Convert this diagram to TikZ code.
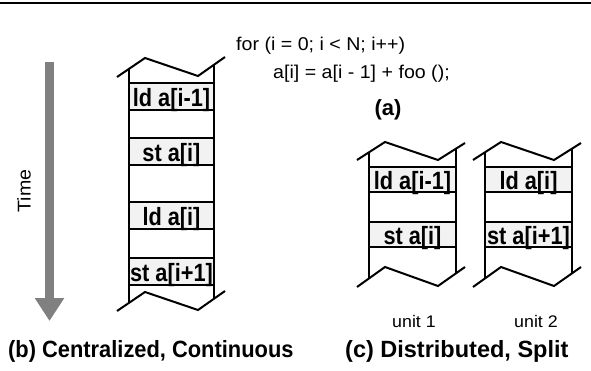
\documentclass[tikz,border=0pt]{standalone}
\usepackage{fontspec}
\usetikzlibrary{arrows.meta}
\setmainfont{Liberation Sans}
\newfontfamily\regf[FakeStretch=1.06]{Liberation Sans}
\newfontfamily\boldf[FakeStretch=0.93]{Liberation Sans Bold}
\newfontfamily\boldw[FakeStretch=1.0]{Liberation Sans Bold}
\newfontfamily\boldn[FakeStretch=0.87]{Liberation Sans Bold}
\definecolor{arrowgray}{RGB}{128,128,128}
\definecolor{boxfill}{RGB}{242,242,242}
\begin{document}
\begin{tikzpicture}[x=1pt,y=-1pt,
  zz/.style={line width=2pt, line join=miter},
  side/.style={line width=2.6pt},
  opbox/.style={draw, line width=2pt, fill=boxfill, inner sep=0pt,
    text height=19.6pt, text depth=0pt,
    font=\boldn\fontsize{25}{28}\selectfont},
  opboxb/.style={opbox, minimum width=85pt, minimum height=27pt},
  opboxc/.style={opbox, minimum width=87pt, minimum height=25pt},
  codetxt/.style={inner sep=0pt, anchor=base west, font=\regf\fontsize{18.5}{21}\selectfont},
  captxtb/.style={inner sep=0pt, anchor=base west, font=\boldf\fontsize{23.5}{27}\selectfont},
  captxtc/.style={inner sep=0pt, anchor=base west, font=\boldw\fontsize{23.5}{27}\selectfont},
  unit/.style={inner sep=0pt, anchor=base, font=\regf\fontsize{16.8}{19}\selectfont},
  timearrow/.style={draw=arrowgray, line width=9pt, -{Triangle[width=28pt,length=23pt]}, arrowgray}
]
\useasboundingbox (0,0) rectangle (591,371);
% top rule
\coordinate (rl) at (0,3);
\coordinate (rr) at (591,3);
\draw[line width=2.5pt] (rl) -- (rr);

% code
\node[codetxt] (code1) at (236,51) {for (i = 0; i < N; i++)};
\node[codetxt] (code2) at (273,79) {a[i] = a[i - 1] + foo ();};
\node[inner sep=0pt, anchor=base, font=\boldw\fontsize{22}{25}\selectfont] (capa) at (388,116) {(a)};

% time arrow
\coordinate (ts) at (49.5,62);
\coordinate (te) at (49.5,321);
\draw[timearrow] (ts) -- (te);
\node[rotate=90, inner sep=0pt, font=\regf\fontsize{18.5}{21}\selectfont] (time) at (24,191) {Time};

% ---- column (b)
\coordinate (bTL) at (129,68.9);
\coordinate (bBL) at (129,302.9);
\coordinate (bTR) at (214,64.7);
\coordinate (bBR) at (214,298.7);
\draw[zz] (117,77) -- (145,58) -- (198,76) -- (225,57);
\draw[zz] (117,311) -- (145,292) -- (198,310) -- (225,291);
\draw[side] (bTL) -- (bBL);
\draw[side] (bTR) -- (bBR);
\node[opboxb] (b1) at (171.5,96.5) {ld a[i-1]};
\node[opboxb] (b2) at (171.5,152) {st a[i]};
\node[opboxb] (b3) at (171.5,216) {ld a[i]};
\node[opboxb] (b4) at (171.5,271.5) {st a[i+1]};
\node[captxtb] (capb) at (8,357) {(b) Centralized, Continuous};

% ---- column (c) unit 1
\coordinate (uTL) at (369,152.3);
\coordinate (uBL) at (369,278.4);
\coordinate (uTR) at (456,148.7);
\coordinate (uBR) at (456,273.3);
\draw[zz] (357,160) -- (385,142) -- (438,160) -- (465,143);
\draw[zz] (357,287) -- (385,267) -- (438,286) -- (465,267);
\draw[side] (uTL) -- (uBL);
\draw[side] (uTR) -- (uBR);
\node[opboxc] (c1) at (412.5,179.5) {ld a[i-1]};
\node[opboxc] (c2) at (412.5,234.5) {st a[i]};
\node[unit] (u1) at (414,327) {unit 1};

% ---- column (c) unit 2
\coordinate (vTL) at (485,152.3);
\coordinate (vBL) at (485,278.4);
\coordinate (vTR) at (572,148.7);
\coordinate (vBR) at (572,273.3);
\draw[zz] (473,160) -- (501,142) -- (554,160) -- (581,143);
\draw[zz] (473,287) -- (501,267) -- (554,286) -- (581,267);
\draw[side] (vTL) -- (vBL);
\draw[side] (vTR) -- (vBR);
\node[opboxc] (d1) at (528.5,179.5) {ld a[i]};
\node[opboxc] (d2) at (528.5,234.5) {st a[i+1]};
\node[unit] (u2) at (536,327) {unit 2};

\node[captxtc] (capc) at (345,357) {(c) Distributed, Split};
\end{tikzpicture}
\end{document}
